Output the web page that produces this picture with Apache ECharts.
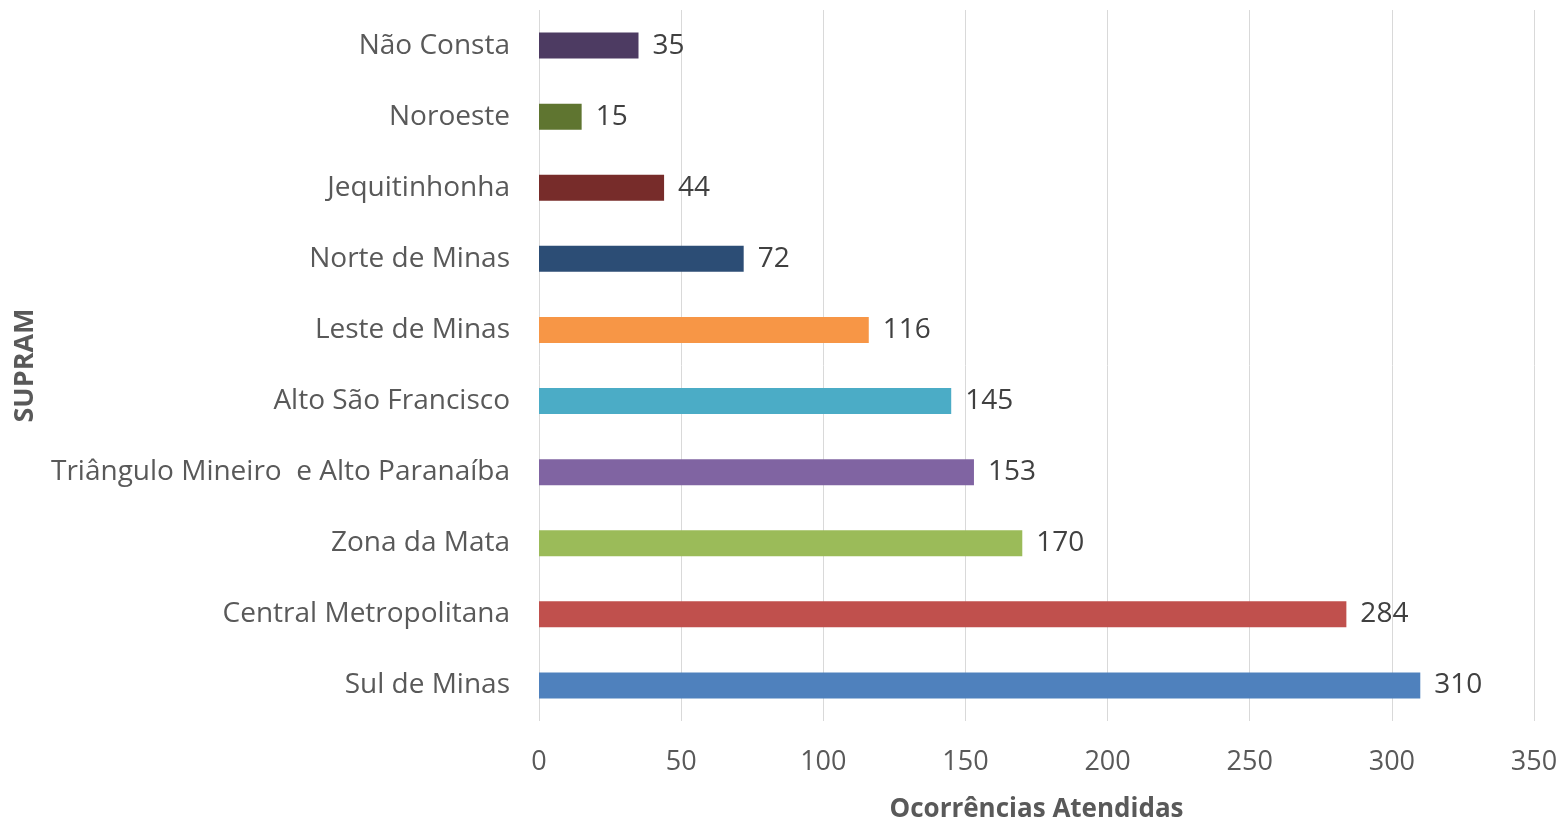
<!DOCTYPE html>
<html><head><meta charset="utf-8">
<script src="https://cdn.jsdelivr.net/npm/echarts@6/dist/echarts.min.js"></script>
<style>html,body{margin:0;padding:0;background:#fff}#c{width:1563px;height:824px}</style>
</head><body><div id="c"></div>
<script>
const categories = ['Sul de Minas','Central Metropolitana','Zona da Mata','Triângulo Mineiro  e Alto Paranaíba','Alto São Francisco','Leste de Minas','Norte de Minas','Jequitinhonha','Noroeste','Não Consta'];
const values = [310,284,170,153,145,116,72,44,15,35];
const colors = ['#4F81BD','#C0504D','#9BBB59','#8064A2','#4BACC6','#F79646','#2C4D75','#772C2A','#5F7530','#4D3B62'];
const xTicks = [0,50,100,150,200,250,300,350];
const font = '"Open Sans", "Noto Sans", sans-serif';
const chart = echarts.init(document.getElementById('c'));
chart.setOption({
  animation:false,
  grid:{left:539,right:29,top:10,bottom:103,containLabel:false,outerBoundsMode:'none'},
  xAxis:{type:'value',min:xTicks[0],max:xTicks[xTicks.length-1],interval:50,
    name:'Ocorrências Atendidas',nameLocation:'middle',nameGap:76,
    nameTextStyle:{fontFamily:font,fontSize:26,fontWeight:'bold',color:'#595959'},
    axisLine:{show:false},axisTick:{show:false},
    axisLabel:{fontFamily:font,fontSize:27,color:'#595959',margin:28},
    splitLine:{lineStyle:{color:'#D9D9D9',width:1}}},
  yAxis:{type:'category',data:categories,
    name:'SUPRAM',nameLocation:'middle',nameGap:500,nameRotate:90,
    nameTextStyle:{fontFamily:font,fontSize:27,fontWeight:'bold',color:'#595959'},
    axisLine:{show:false},axisTick:{show:false},
    axisLabel:{fontFamily:font,fontSize:28,color:'#595959',margin:29}},
  series:[{type:'bar',barWidth:26,
    data:values.map((v,i)=>({value:v,itemStyle:{color:colors[i]}})),
    label:{show:true,position:'right',distance:14,fontFamily:font,fontSize:28,color:'#404040'}}]
});
</script></body></html>
